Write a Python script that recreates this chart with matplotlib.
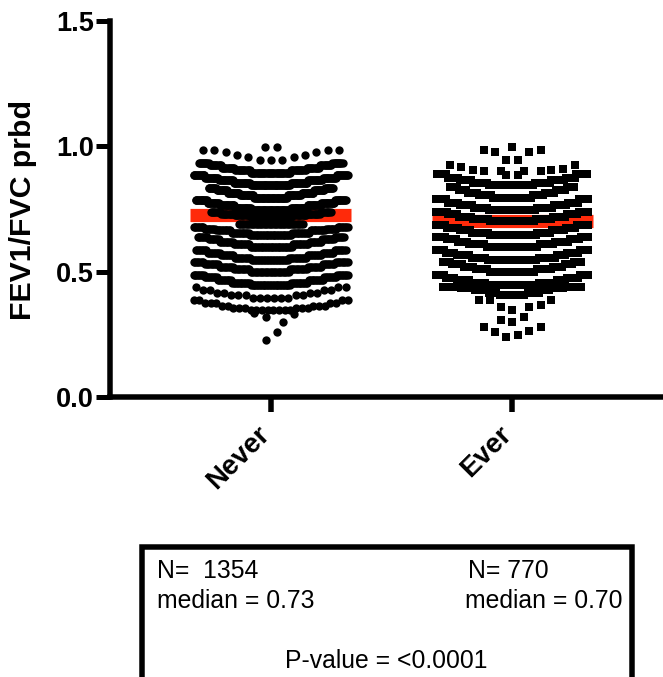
import numpy as np
import matplotlib
matplotlib.use("Agg")
import matplotlib.pyplot as plt
from matplotlib.patches import Rectangle

# ---- data ----
categories = ["Never", "Ever"]
medians = [0.727, 0.702]
yticks = [0.0, 0.5, 1.0, 1.5]

# Dense rows: FEV1/FVC levels (rounded) and how many subjects sit at each level
never_levels = [
    [.895, .905, .915, .925, .935],
    [.845, .855, .865, .875, .885],
    [.795, .805, .815, .825, .835],
    [.745, .755, .765, .775, .785],
    [.718, .725, .732, .738],
    [.689, .692],
    [.645, .655, .665, .672, .678],
    [.600, .610, .620, .630, .638],
    [.546, .555, .565, .575, .586],
    [.500, .510, .520, .530, .539],
    [.447, .455, .465, .478, .488],
    [.395, .405, .415, .425, .437],
    [.347, .355, .365, .375, .388],
]
never_counts = [
    [36, 28, 24, 22, 20],
    [44, 38, 32, 30, 26],
    [40, 34, 30, 26, 20],
    [46, 38, 34, 30, 27],
    [34, 26, 22, 18],
    [24, 16],
    [30, 26, 22, 16, 16],
    [30, 24, 19, 17, 15],
    [25, 23, 19, 17, 16],
    [24, 21, 18, 17, 15],
    [28, 25, 21, 18, 16],
    [6, 5, 4, 4, 3],
    [8, 6, 5, 5, 4],
]
never_extra_values = [.985, .985, .976, .965, .956, .945, .945, .945, .956, .965, .976, .985, .985,
                      .997, .997, .318, .330, .298, .259, .229, .336]
never_extra_offsets = [-68, -57, -45, -34, -23, -11, 0, 11, 23, 34, 45, 57, 68,
                       -6, 6, -5, 23, 12, 6, -5, -17]

ever_levels = [
    [.846, .855, .865, .875, .888],
    [.795, .805, .815, .825, .836],
    [.746, .755, .765, .775, .788],
    [.702, .710, .720, .730, .739],
    [.646, .655, .665, .675, .686],
    [.600, .610, .620, .630, .639],
    [.546, .555, .565, .575, .586],
    [.500, .510, .520, .530, .539],
    [.447, .455, .465, .475, .488],
    [.405, .415, .425, .435, .440],
]
ever_counts = [
    [26, 18, 15, 13, 13],
    [22, 15, 12, 11, 10],
    [28, 19, 16, 14, 13],
    [30, 22, 18, 15, 15],
    [26, 18, 15, 13, 13],
    [24, 15, 12, 10, 9],
    [20, 13, 10, 9, 8],
    [20, 13, 10, 9, 8],
    [20, 13, 10, 9, 8],
    [8, 7, 7, 8, 10],
]
ever_extra_values = [.998, .985, .985, .978, .978, .945, .945,
                     .925, .918, .905, .900, .900, .886, .886, .900, .900, .905, .908, .925,
                     .387, .387, .360, .347, .360, .367, .387,
                     .307, .300, .320, .280, .260, .240, .247, .262, .280]
ever_extra_offsets = [0, -28, 29, -17, 17, -6, 6,
                      -62, -51, -39, -28, -11, -6, 6, 12, 29, 39, 51, 63,
                      -33, -22, -11, 0, 17, 29, 39,
                      -11, 0, 12, -28, -17, -6, 6, 17, 29]

# half-width of each row in pixels (layout)
never_halfwidths = [72, 77, 62, 75, 60, 32, 77, 73, 75, 77, 77, 75, 77]
ever_halfwidths = [75, 62, 76, 76, 76, 76, 76, 69, 76, 69]

# ---- layout ----
W, H = 663, 677
DPI = 100
X0, X1 = 270.5, 512.0      # pixel centres of both groups
PX_PER_CAT = X1 - X0
LEFT, RIGHT, BOTTOM, TOP = 109.5, 663.0, 397.0, 21.0


def swarm(levels, counts, halfwidth):
    vals = np.sort(np.repeat(levels, counts))
    slots = np.linspace(-halfwidth, halfwidth, len(vals))
    order = np.argsort(np.abs(slots), kind="mergesort")
    return slots[order], vals


def group_points(levels, counts, widths, extra_v, extra_o):
    xs, ys = [list(extra_o)], [list(extra_v)]
    for lv, ct, hw in zip(levels, counts, widths):
        o, v = swarm(lv, ct, hw)
        xs.append(o)
        ys.append(v)
    return np.concatenate(xs), np.concatenate(ys)


plt.rcParams["font.family"] = ["Liberation Sans", "DejaVu Sans"]
fig = plt.figure(figsize=(W / DPI, H / DPI), dpi=DPI)
ax = fig.add_axes([LEFT / W, 1 - BOTTOM / H, (RIGHT - LEFT) / W, (BOTTOM - TOP) / H])
ax.set_xlim((LEFT - X0) / PX_PER_CAT, (RIGHT - X0) / PX_PER_CAT)
ax.set_ylim(0, 1.5)

groups = [
    (never_levels, never_counts, never_halfwidths, never_extra_values, never_extra_offsets, "o"),
    (ever_levels, ever_counts, ever_halfwidths, ever_extra_values, ever_extra_offsets, "s"),
]
for i, (lv, ct, hw, ev, eo, marker) in enumerate(groups):
    off, val = group_points(lv, ct, hw, ev, eo)
    ax.plot([i - 80.5 / PX_PER_CAT, i + 80.5 / PX_PER_CAT], [medians[i]] * 2, color="#ff2a0a",
            lw=13.2 * 0.72, solid_capstyle="butt", zorder=2)
    ax.scatter(i + off / PX_PER_CAT, val, s=36, marker=marker,
               color="black", linewidths=0, zorder=3, clip_on=False)

for side in ("top", "right"):
    ax.spines[side].set_visible(False)
for side in ("left", "bottom"):
    ax.spines[side].set_linewidth(5.5 * 0.72)
ax.spines["left"].set_capstyle("projecting")

ax.set_yticks(yticks)
ax.set_yticklabels([f"{t:.1f}" for t in yticks], fontsize=19.5, fontweight="bold")
ax.set_xticks([0, 1])
ax.set_xticklabels([])
for i, name in enumerate(categories):
    ax.annotate(name, xy=(i, 0), xycoords=("data", "axes fraction"), xytext=(-4.5, -34),
                textcoords="offset pixels", fontsize=20, fontweight="bold", rotation=45,
                ha="right", va="center", rotation_mode="anchor", annotation_clip=False)
ax.tick_params(axis="y", length=14 * 0.72, width=5 * 0.72, pad=1)
ax.tick_params(axis="x", length=15 * 0.72, width=5.5 * 0.72)
ax.set_ylabel("FEV1/FVC prbd", fontsize=21.8, fontweight="bold", labelpad=0)
ax.yaxis.set_label_coords((37 - LEFT) / (RIGHT - LEFT), (BOTTOM - 210) / (BOTTOM - TOP))


# ---- annotation box ----
def fx(px):
    return px / W


def fy(py):
    return 1 - py / H


fig.add_artist(Rectangle((fx(141.5), fy(678)), (631.5 - 141.5) / W, (678 - 547) / H,
                         transform=fig.transFigure, fill=False, edgecolor="black",
                         linewidth=5.5 * 0.72, clip_on=False))
notes = [
    (157, 577.5, "N=  1354"),
    (157, 608, "median = 0.73"),
    (468, 577.5, "N= 770"),
    (465, 608, "median = 0.70"),
    (285, 667.5, "P-value = <0.0001"),
]
for x, y, s in notes:
    fig.text(fx(x), fy(y), s, fontsize=17.8, va="baseline", ha="left", color="black")

fig.savefig("out.png", dpi=DPI)
